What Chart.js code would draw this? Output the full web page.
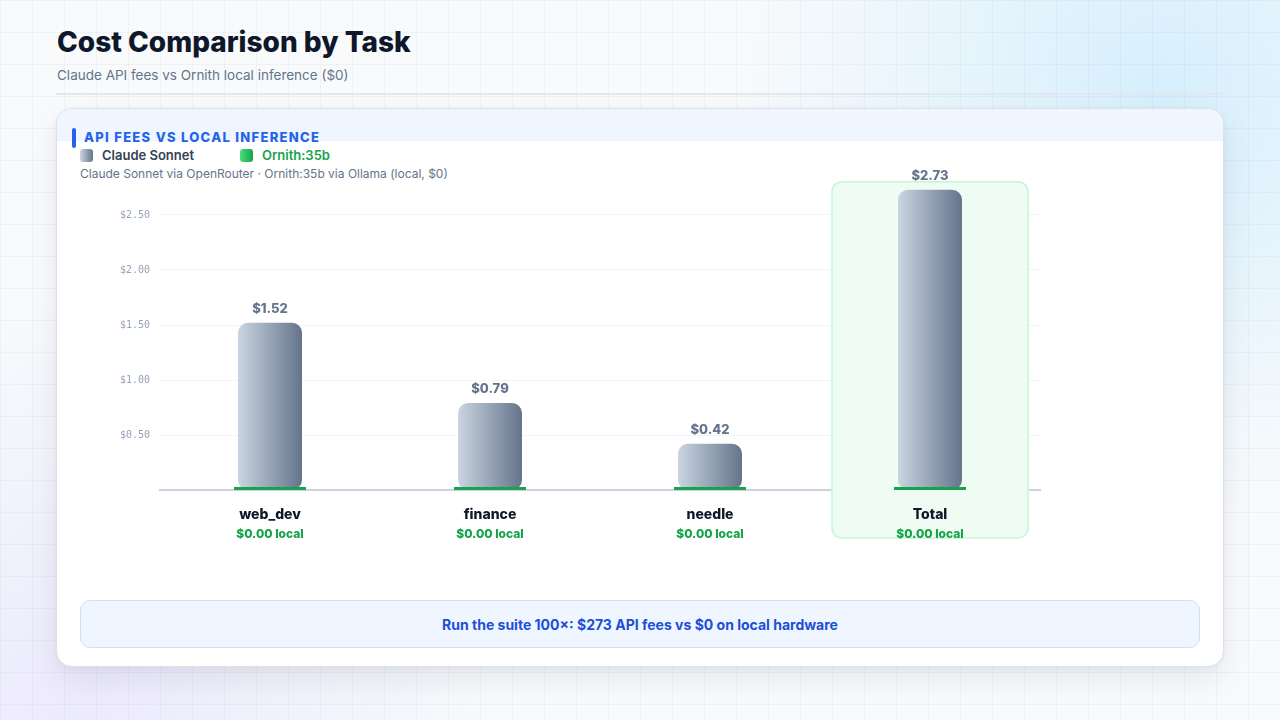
<!DOCTYPE html>
<html>
<head>
<meta charset="utf-8">
<script src="https://cdn.jsdelivr.net/npm/chart.js@4.4.1/dist/chart.umd.min.js"></script>
<style>
  html, body { margin:0; padding:0; }
  body {
    width:1280px; height:720px; overflow:hidden; position:relative;
    font-family: Inter, "Noto Sans", sans-serif;
    background-color:#f8fafc;
    background-image:
      linear-gradient(rgba(148,163,184,0.09) 1px, transparent 1px),
      linear-gradient(90deg, rgba(148,163,184,0.09) 1px, transparent 1px),
      radial-gradient(circle at 1160px 90px, rgba(186,230,253,0.55) 0, rgba(186,230,253,0.25) 220px, rgba(255,255,255,0) 420px),
      radial-gradient(circle at 80px 720px, rgba(221,214,254,0.45) 0, rgba(221,214,254,0) 420px);
    background-size:32px 32px, 32px 32px, 100% 100%, 100% 100%;
  }
  .title { position:absolute; left:57px; top:24px; font-size:28px; font-weight:800; color:#0f172a; line-height:36px; }
  .subtitle { position:absolute; left:57px; top:66px; font-size:13.5px; color:#64748b; line-height:18px; }
  .divider { position:absolute; left:56px; top:93px; width:1168px; height:2px; background:#e2e8f0; }
  .card { position:absolute; left:56px; top:108px; width:1166px; height:557px; background:#fff; border:1px solid #dbe2ea; border-radius:16px; box-shadow:0 12px 32px rgba(15,23,42,0.08), 0 2px 6px rgba(15,23,42,0.04); overflow:hidden; }
  .band { position:absolute; left:0; top:0; width:100%; height:32px; background:#eff6ff; }
  .accent { position:absolute; left:72px; top:128px; width:4px; height:20px; background:#2563eb; border-radius:2px; }
  .head { position:absolute; left:84px; top:129px; font-size:13px; font-weight:800; color:#2563eb; letter-spacing:1.3px; line-height:17px; }
  .leg { position:absolute; top:147px; font-size:13px; font-weight:600; line-height:16px; display:flex; align-items:center; }
  .sw { width:13px; height:13px; border-radius:3px; margin-right:9px; }
  .cap { position:absolute; left:80px; top:166px; font-size:12px; color:#64748b; line-height:15px; }
  .foot { position:absolute; left:80px; top:600px; width:1118px; height:46px; background:#eff6ff; border:1px solid #cfe0fb; border-radius:10px; display:flex; align-items:center; justify-content:center; font-size:14px; font-weight:700; color:#1d4ed8; }
  canvas { position:absolute; left:80px; top:155px; }
</style>
</head>
<body>
<div class="title">Cost Comparison by Task</div>
<div class="subtitle">Claude API fees vs Ornith local inference ($0)</div>
<div class="divider"></div>
<div class="card"><div class="band"></div></div>
<div class="accent"></div>
<div class="head">API FEES VS LOCAL INFERENCE</div>
<div class="leg" style="left:80px;color:#334155;"><div class="sw" style="background:linear-gradient(90deg,#cbd5e1,#64748b);"></div>Claude Sonnet</div>
<div class="leg" style="left:240px;color:#16a34a;"><div class="sw" style="background:linear-gradient(90deg,#4ade80,#16a34a);"></div>Ornith:35b</div>
<div class="cap">Claude Sonnet via OpenRouter · Ornith:35b via Ollama (local, $0)</div>
<canvas id="c" width="1000" height="405" style="width:1000px;height:405px;"></canvas>
<div class="foot">Run the suite 100×: $273 API fees vs $0 on local hardware</div>

<script>
const categories = ['web_dev', 'finance', 'needle', 'Total'];
const claudeCost = [1.52, 0.79, 0.42, 2.73];
const ornithCost = [0, 0, 0, 0];
const yTicks = [0.5, 1.0, 1.5, 2.0, 2.5];
const highlightCategory = 'Total';

const fmt = v => '$' + v.toFixed(2);

const overlay = {
  id: 'overlay',
  beforeDatasetsDraw(chart) {
    const { ctx, scales: { x, y }, chartArea } = chart;
    const i = categories.indexOf(highlightCategory);
    if (i < 0) return;
    const cx = x.getPixelForValue(i);
    const top = y.getPixelForValue(claudeCost[i]) - 8;
    const bottom = chartArea.bottom + 48;
    ctx.save();
    ctx.beginPath();
    ctx.roundRect(cx - 98, top, 196, bottom - top, 10);
    ctx.fillStyle = '#effcf3';
    ctx.fill();
    ctx.strokeStyle = '#c6f6d5';
    ctx.lineWidth = 1.5;
    ctx.stroke();
    ctx.restore();
  },
  afterDatasetsDraw(chart) {
    const { ctx, scales: { x, y }, chartArea } = chart;
    ctx.save();
    ctx.textAlign = 'center';
    ctx.textBaseline = 'middle';
    categories.forEach((cat, i) => {
      const cx = x.getPixelForValue(i);
      ctx.font = '800 13px Inter, sans-serif';
      ctx.fillStyle = '#64748b';
      ctx.fillText(fmt(claudeCost[i]), cx, y.getPixelForValue(claudeCost[i]) - 14);
      ctx.font = '800 14px Inter, sans-serif';
      ctx.fillStyle = '#0f172a';
      ctx.fillText(cat, cx, chartArea.bottom + 24.5);
      ctx.font = '800 12px Inter, sans-serif';
      ctx.fillStyle = '#16a34a';
      ctx.fillText(fmt(ornithCost[i]) + ' local', cx, chartArea.bottom + 44);
    });
    ctx.restore();
  }
};

new Chart(document.getElementById('c'), {
  type: 'bar',
  data: {
    labels: categories,
    datasets: [
      {
        label: 'Ornith:35b',
        data: ornithCost,
        backgroundColor: '#16a34a',
        minBarLength: 3,
        barPercentage: 72 / 220,
        categoryPercentage: 1,
        grouped: false,
        borderSkipped: false,
        order: 0
      },
      {
        label: 'Claude Sonnet',
        data: claudeCost,
        backgroundColor: (c) => {
          const ch = c.chart;
          const xs = ch.scales && ch.scales.x;
          if (!xs || !ch.chartArea || c.dataIndex === undefined) return '#94a3b8';
          const cx = xs.getPixelForValue(c.dataIndex);
          const g = ch.ctx.createLinearGradient(cx - 32, 0, cx + 32, 0);
          g.addColorStop(0, '#cbd5e1');
          g.addColorStop(1, '#64748b');
          return g;
        },
        borderRadius: 10,
        borderSkipped: false,
        barPercentage: 64 / 220,
        categoryPercentage: 1,
        grouped: false,
        order: 1
      }
    ]
  },
  options: {
    responsive: false,
    devicePixelRatio: 1,
    animation: false,
    layout: { padding: { top: 0, right: 40, bottom: 0, left: 0 } },
    plugins: { legend: { display: false }, tooltip: { enabled: false } },
    scales: {
      x: {
        grid: { display: false },
        border: { display: true, color: '#cbd5e1', width: 2 },
        ticks: { display: false },
        afterFit(s) { s.height = 70; }
      },
      y: {
        min: 0,
        max: 2.9,
        afterBuildTicks(s) { s.ticks = yTicks.map(v => ({ value: v })); },
        afterFit(s) { s.width = 80; },
        grid: { color: '#f1f5f9', lineWidth: 1, drawTicks: false },
        border: { display: false },
        ticks: {
          padding: 10,
          color: '#94a3b8',
          font: { family: '"DejaVu Sans Mono", monospace', size: 10 },
          callback: v => fmt(v)
        }
      }
    }
  },
  plugins: [overlay]
});
</script>
</body>
</html>
